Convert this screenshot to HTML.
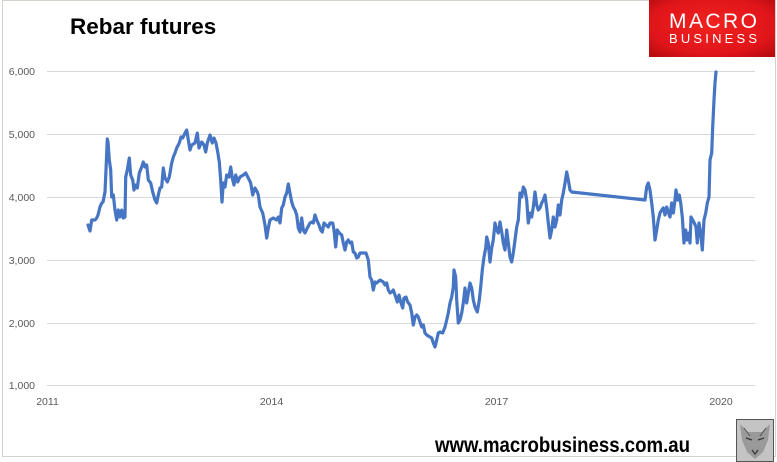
<!DOCTYPE html>
<html><head><meta charset="utf-8"><style>
html,body{margin:0;padding:0;background:#fff;}
svg{display:block;}
text{font-family:"Liberation Sans",Arial,sans-serif;}
</style></head><body>
<svg width="777" height="462" viewBox="0 0 777 462" xmlns="http://www.w3.org/2000/svg">
<defs>
<radialGradient id="rg" cx="50%" cy="45%" r="70%">
<stop offset="0" stop-color="#f2231f"/><stop offset="0.7" stop-color="#e0151a"/><stop offset="1" stop-color="#b80c10"/>
</radialGradient>
</defs>
<rect x="0" y="0" width="777" height="462" fill="#fff"/>
<rect x="2.5" y="0.5" width="773" height="456" fill="none" stroke="#cfd5cb" stroke-width="1"/>
<g stroke="#d9d9d9" stroke-width="1">
<line x1="47" y1="71.5" x2="755" y2="71.5"/>
<line x1="47" y1="134.5" x2="755" y2="134.5"/>
<line x1="47" y1="197.5" x2="755" y2="197.5"/>
<line x1="47" y1="260.5" x2="755" y2="260.5"/>
<line x1="47" y1="323.5" x2="755" y2="323.5"/>
<line x1="47" y1="385.5" x2="755" y2="385.5"/>
</g>
<g fill="#595959" font-size="10.5" text-anchor="end">
<text x="35" y="75">6,000</text>
<text x="35" y="138">5,000</text>
<text x="35" y="201">4,000</text>
<text x="35" y="264">3,000</text>
<text x="35" y="327">2,000</text>
<text x="35" y="389">1,000</text>
</g>
<g fill="#595959" font-size="10.5" text-anchor="middle">
<text x="47.5" y="405">2011</text>
<text x="271.5" y="405">2014</text>
<text x="496.5" y="405">2017</text>
<text x="721" y="405">2020</text>
</g>
<text x="70" y="34" font-size="22.5" font-weight="bold" fill="#000">Rebar futures</text>
<polyline fill="none" stroke="#4575c3" stroke-width="3.2" stroke-linejoin="round" stroke-linecap="round" points="88,225 90,231 91.7,220 95,220 96.7,218 98,215 100,207 101.7,203 103,202 105,192 106,170 107.3,139 108,142 109.3,160 110.7,170 111.7,197 113.3,195 115,210 116.7,220 118.3,210 120,217 121.7,210 123.3,218 125,217 125.7,177 127.3,170 129.3,158 130.7,175 132.7,180 134,190 135.7,185 137.3,188 139.3,173 141.7,167 143.3,162 145,167 146.7,165 148.3,180 150.7,183 152.7,192 155,200 156.7,203 158.3,195 160,188 161.7,187 163.3,168 165,178 167.3,182 169.3,177 171.7,163 173.3,157 175,153 176.7,148 179.3,143 181,137 182.7,138 185,133 186.7,130 188.3,140 190,150 191.7,145 195,143 197.3,133 199,148 201.7,142 204,145 205.7,152 207.3,143 210,135 212.3,143 214,138 216,143 217.7,152 219.3,162 220.7,180 222,202 223.3,183 225,187 226.7,175 229,177 230.7,167 232.3,178 234,185 235.7,175 237.7,182 240,177 243.3,175 245.7,173 248.3,178 250.7,183 252.7,195 255,188 257.3,192 258.3,195 260,207 262.7,213 265,225 266.7,238 268.3,228 270,220 273.3,218 276.7,220 278.3,217 280,223 281.7,208 283.3,205 285,197 286.7,193 288.3,184 290,193 291.7,202 293.3,207 295,210 296.7,215 298.3,228 300,232 301.7,218 303.3,230 305,233 307.3,228 310,223 311.7,222 313.3,223 315,215 316.7,220 319,225 320.7,230 322.3,232 324,223 326,225 328.3,227 330,223 332.7,223 334,230 335.7,247 337.3,230 339.3,233 341.7,235 343.3,243 345,250 346.7,242 348.3,240 350,243 351.7,242 353.3,252 355,253 356.7,258 358.3,257 360,253 363.3,253 366,253 368.3,260 370,277 371.7,280 373.3,290 375,282 376.7,283 380,280 383.3,282 385,285 386.7,283 388.3,290 390,293 391.7,292 393.3,290 395.7,297 397.3,302 399,295 400.7,302 402.7,308 404,298 406,297 407.7,302 410,305 411.7,313 413.3,325 415,317 416.7,315 418.3,317 420,322 421.7,327 423.3,325 425,333 426.7,335 430,337 431.7,338 433.3,343 435,347 436.7,340 438.3,333 440,332 442.7,333 445,327 446.7,320 448.3,313 450,303 451.7,297 453.3,287 454,270 455.7,277 456.7,300 458.3,323 460,320 461.7,313 463.3,303 465,288 466.7,303 468.3,293 470,283 471.7,288 473.3,300 475,307 477.3,312 479.3,300 480.7,287 482.3,270 484,257 485.7,248 486.7,237 488.3,243 490,262 491.7,248 493.3,240 495,223 496.7,230 498.3,233 500,222 501.7,232 503.3,243 505,250 506.7,230 508.3,243 510,257 511.7,262 513.3,253 515,240 516.7,227 518.3,220 520,193 521.7,197 523.3,187 525,190 526.7,200 528.3,223 530,213 531.7,217 533.3,207 535,192 536.7,205 538.3,210 540,208 541.7,203 543.3,200 545,195 546.7,208 548.3,223 550,238 551.7,230 553.3,217 555,227 556.7,220 558.3,205 560,215 561.7,200 563.3,193 565,183 566.7,172 568.3,180 570,190 571.7,192 645,200 646.7,187 648.3,183 650,190 651.7,203 653.3,217 655,240 656.7,230 658.3,220 660,213 661.7,210 663.3,208 665,215 666.7,207 668.3,212 670,217 671.7,203 673.3,213 675,200 676,190 677.7,200 679.3,195 680.7,203 682.3,217 684,243 685.7,230 687.3,240 689,233 690,243 691,217 692.7,220 694.3,223 696,227 697.3,243 699,223 700.7,233 702.3,250 704,220 705.7,213 707.3,203 709,197 710,160 711.7,153 712.7,127 714,100 715,83 716,72"/>
<rect x="649" y="0" width="126" height="57" fill="url(#rg)"/>
<text x="669" y="28" font-size="21" fill="#fff" textLength="88" lengthAdjust="spacing">MACRO</text>
<text x="669" y="43" font-size="13" fill="#fff" textLength="88" lengthAdjust="spacing">BUSINESS</text>
<text x="435" y="452" font-size="21" font-weight="bold" fill="#000" textLength="255" lengthAdjust="spacingAndGlyphs">www.macrobusiness.com.au</text>
<rect x="736.5" y="419.5" width="37" height="42" fill="#c4c4c4" stroke="#555" stroke-width="1"/>
<path d="M740,424 L748,432 L762,432 L770,424 L768,440 L763,452 L755,459 L747,452 L742,440 Z" fill="#9a9a9a"/>
<path d="M746,438 L752,440 M758,440 L764,438 M752,450 L755,454 L758,450" stroke="#333" stroke-width="1.2" fill="none"/>
<path d="M744,428 L750,436 M766,428 L760,436" stroke="#555" stroke-width="1" fill="none"/>
</svg>
</body></html>
